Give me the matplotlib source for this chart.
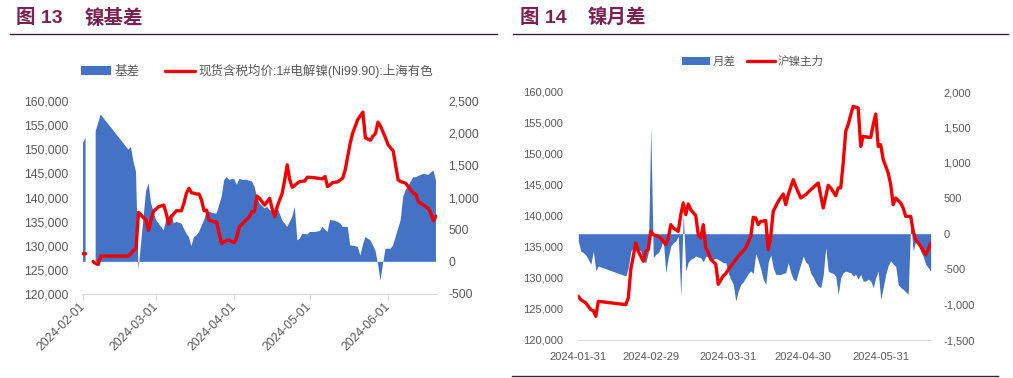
import numpy as np
import pandas as pd
import matplotlib
matplotlib.use("Agg")
import matplotlib.pyplot as plt
import matplotlib.dates as mdates
from matplotlib.lines import Line2D
from matplotlib.ticker import FuncFormatter, MultipleLocator

plt.rcParams['font.family'] = ['Liberation Sans', 'Noto Sans CJK SC']

# ---- 图13 镍基差 ----
basis_dates = [
    "2024-02-01", "2024-02-02", "2024-02-05", "2024-02-06", "2024-02-08", "2024-02-19", "2024-02-20",
    "2024-02-21", "2024-02-22", "2024-02-23", "2024-02-26", "2024-02-27", "2024-02-28", "2024-03-01",
    "2024-03-02", "2024-03-04", "2024-03-05", "2024-03-07", "2024-03-08", "2024-03-09", "2024-03-11",
    "2024-03-13", "2024-03-14", "2024-03-15", "2024-03-16", "2024-03-17", "2024-03-18", "2024-03-20",
    "2024-03-21", "2024-03-22", "2024-03-24", "2024-03-25", "2024-03-27", "2024-03-28", "2024-03-29",
    "2024-03-30", "2024-03-31", "2024-04-01", "2024-04-02", "2024-04-03", "2024-04-04", "2024-04-06",
    "2024-04-08", "2024-04-09", "2024-04-10", "2024-04-11", "2024-04-13", "2024-04-14", "2024-04-15",
    "2024-04-17", "2024-04-18", "2024-04-19", "2024-04-20", "2024-04-22", "2024-04-23", "2024-04-24",
    "2024-04-25", "2024-04-26", "2024-04-27", "2024-04-28", "2024-04-30", "2024-05-01", "2024-05-03",
    "2024-05-05", "2024-05-06", "2024-05-08", "2024-05-09", "2024-05-10", "2024-05-12", "2024-05-13",
    "2024-05-14", "2024-05-16", "2024-05-17", "2024-05-19", "2024-05-20", "2024-05-21", "2024-05-22",
    "2024-05-23", "2024-05-25", "2024-05-26", "2024-05-27", "2024-05-28", "2024-05-29", "2024-05-30",
    "2024-05-31", "2024-06-02", "2024-06-03", "2024-06-04", "2024-06-06", "2024-06-07", "2024-06-08",
    "2024-06-10", "2024-06-11", "2024-06-12", "2024-06-14", "2024-06-15", "2024-06-17", "2024-06-18",
    "2024-06-19", "2024-06-20",
]
basis_vals = [
    1850, 1930, np.nan, 2030, 2290, 1744, 1785,
    1560, 1400, -130, 1100, 1222, 909, 647,
    596, 490, 647, 753, 596, 622, 596,
    440, 386, 245, 386, 412, 464, 647,
    777, 777, 753, 753, 1013, 1274, 1316,
    1274, 1285, 1285, 1196, 1290, 1274, 1274,
    1248, 1170, 1013, 909, 830, 857, 805,
    777, 857, 753, 647, 543, 620, 700,
    857, 334, 360, 438, 425, 464, 464,
    480, 543, 464, 647, 647, 622, 596,
    543, 543, 256, 245, 230, 99, 256,
    386, 334, 256, 178, -31, -292, -31,
    204, 204, 256, 386, 647, 1013, 1117,
    1248, 1316, 1316, 1352, 1368, 1352, 1390,
    1420, 1274,
]

spot_dates = [
    "2024-02-01", "2024-02-02", "2024-02-03", "2024-02-05", "2024-02-06", "2024-02-07", "2024-02-08",
    "2024-02-19", "2024-02-20", "2024-02-21", "2024-02-22", "2024-02-23", "2024-02-24", "2024-02-26",
    "2024-02-27", "2024-02-28", "2024-02-29", "2024-03-02", "2024-03-04", "2024-03-05", "2024-03-06",
    "2024-03-07", "2024-03-09", "2024-03-11", "2024-03-12", "2024-03-13", "2024-03-14", "2024-03-15",
    "2024-03-17", "2024-03-18", "2024-03-19", "2024-03-20", "2024-03-21", "2024-03-22", "2024-03-24",
    "2024-03-25", "2024-03-26", "2024-03-27", "2024-03-29", "2024-03-30", "2024-04-01", "2024-04-02",
    "2024-04-03", "2024-04-05", "2024-04-07", "2024-04-08", "2024-04-09", "2024-04-10", "2024-04-11",
    "2024-04-13", "2024-04-14", "2024-04-15", "2024-04-16", "2024-04-17", "2024-04-18", "2024-04-20",
    "2024-04-21", "2024-04-22", "2024-04-23", "2024-04-24", "2024-04-26", "2024-04-27", "2024-04-29",
    "2024-04-30", "2024-05-02", "2024-05-04", "2024-05-06", "2024-05-07", "2024-05-08", "2024-05-09",
    "2024-05-10", "2024-05-12", "2024-05-14", "2024-05-15", "2024-05-17", "2024-05-18", "2024-05-20",
    "2024-05-22", "2024-05-23", "2024-05-25", "2024-05-26", "2024-05-27", "2024-05-28", "2024-05-29",
    "2024-05-31", "2024-06-01", "2024-06-02", "2024-06-03", "2024-06-05", "2024-06-06", "2024-06-08",
    "2024-06-10", "2024-06-11", "2024-06-12", "2024-06-13", "2024-06-15", "2024-06-17", "2024-06-18",
    "2024-06-19", "2024-06-20",
]
spot_vals = [
    128345, 128345, np.nan, 126745, 126300, 126120, 127860,
    127860, 128345, 129040, 129390, 136900, 136350, 135300,
    133200, 135440, 137180, 138080, 138430, 136700, 134470,
    136000, 137250, 137250, 138780, 140870, 141910, 141000,
    140730, 140730, 139480, 137250, 137390, 135300, 134960,
    134960, 132520, 130430, 131130, 131130, 130640, 131820,
    133910, 134960, 136000, 137040, 137040, 140310, 139820,
    138430, 139130, 139820, 137740, 136000, 138080, 140870,
    143650, 146780, 143650, 142120, 142960, 143300, 143440,
    144210, 144140, 144000, 143860, 144350, 142260, 142610,
    143090, 143230, 144000, 145740, 151300, 153390, 156170,
    157700, 152350, 151860, 152700, 153250, 155620, 154790,
    152350, 150960, 150270, 149700, 143650, 143300, 142960,
    141560, 140870, 140730, 139130, 138430, 137740, 136700,
    135160, 136140,
]
left_ticks = ["2024-02-01", "2024-03-01", "2024-04-01", "2024-05-01", "2024-06-01"]

# ---- 图14 镍月差 ----
spread_pre = [-100, -245, -268, -300, -362, -433, -245, -517, -456]          # 01-31 .. 02-08
spread_post = [                                                                # 02-19 .. 06-20
    -597, -480, -245, -198, -103, -221, -245, -386, -409, -268, 1496,
    -339, -292, -268, -198, -80, -550, -330, -175, -127, -103, -33, -880, 280, -527, -400,
    -360, -340, -315, -330, -339, -395, -315, -330, -339, -362, -348, -362, -386, -410, -409, -550,
    -644, -715, -950, -810, -715, -680, -620, -560, -527, -560, -280, -380, -500, -644, -715,
    -400, -300, -480, -574, -574, -574, -560, -550, -409, -550, -640, -668, -550, -430, -315,
    -400, -433, -560, -610, -690, -740, -762, -580, -198, -527, -550, -560, -600, -856, -620,
    -550, -527, -540, -550, -597, -574, -640, -574, -670, -668, -640, -668, -762, -620, -527, -927,
    -760, -574, -450, -380, -430, -460, -715, -760, -785, -820, -856, 170, -245, -103, -150,
    -250, -320, -430, -480, -527,
]
spread_dates = list(pd.date_range("2024-01-31", "2024-02-08")) + list(pd.date_range("2024-02-19", "2024-06-20"))
spread_vals = spread_pre + spread_post

fut_dates = [
    "2024-01-31", "2024-02-01", "2024-02-02", "2024-02-03", "2024-02-04", "2024-02-05", "2024-02-06",
    "2024-02-07", "2024-02-08", "2024-02-19", "2024-02-20", "2024-02-21", "2024-02-22", "2024-02-23",
    "2024-02-24", "2024-02-26", "2024-02-27", "2024-02-28", "2024-02-29", "2024-03-01", "2024-03-03",
    "2024-03-04", "2024-03-06", "2024-03-07", "2024-03-08", "2024-03-09", "2024-03-11", "2024-03-12",
    "2024-03-13", "2024-03-14", "2024-03-15", "2024-03-16", "2024-03-18", "2024-03-19", "2024-03-20",
    "2024-03-21", "2024-03-22", "2024-03-23", "2024-03-24", "2024-03-26", "2024-03-27", "2024-03-29",
    "2024-03-30", "2024-03-31", "2024-04-02", "2024-04-04", "2024-04-07", "2024-04-09", "2024-04-10",
    "2024-04-11", "2024-04-12", "2024-04-13", "2024-04-15", "2024-04-16", "2024-04-17", "2024-04-18",
    "2024-04-20", "2024-04-22", "2024-04-23", "2024-04-24", "2024-04-26", "2024-04-27", "2024-04-29",
    "2024-05-01", "2024-05-03", "2024-05-06", "2024-05-08", "2024-05-10", "2024-05-11", "2024-05-13",
    "2024-05-14", "2024-05-15", "2024-05-16", "2024-05-17", "2024-05-18", "2024-05-19", "2024-05-20",
    "2024-05-22", "2024-05-23", "2024-05-24", "2024-05-26", "2024-05-27", "2024-05-28", "2024-05-29",
    "2024-05-30", "2024-05-31", "2024-06-01", "2024-06-03", "2024-06-04", "2024-06-05", "2024-06-06",
    "2024-06-08", "2024-06-09", "2024-06-10", "2024-06-12", "2024-06-13", "2024-06-14", "2024-06-16",
    "2024-06-18", "2024-06-19", "2024-06-20",
]
fut_vals = [
    127045, 126510, 126240, 125970, 125430, 124890, 124730,
    123820, 126240, 125700, 126780, 131350, 133500, 135650,
    134310, 132700, 134310, 134580, 137530, 136990, 136720,
    136450, 135380, 136450, 138600, 138070, 137530, 140220,
    142100, 140220, 141940, 141020, 140060, 136990, 136450,
    138600, 134850, 134150, 133020, 132220, 128990, 130340,
    130720, 131350, 132430, 133500, 134850, 136720, 139790,
    139680, 138600, 139130, 139260, 134580, 136720, 140760,
    142370, 143550, 141830, 143440, 145860, 144780, 142910,
    143440, 144240, 145320, 141290, 144960, 144530, 143280,
    144530, 144530, 148560, 153670, 154750, 156340, 157690,
    157420, 151230, 152850, 152690, 152690, 154730, 156450,
    151230, 151500, 149100, 146950, 145080, 141830, 142910,
    142100, 141290, 139940, 139940, 137530, 136180, 135110,
    133770, 134580, 135650,
]
right_ticks = ["2024-01-31", "2024-02-29", "2024-03-31", "2024-04-30", "2024-05-31"]

BLUE = "#4472C4"
RED = "#F00000"
GRAY = "#595959"
AXIS = "#D9D9D9"
TITLE = "#7B2150"
RULE = "#3D1F2E"
W, H = 1013, 378

fig = plt.figure(figsize=(W / 100, H / 100), dpi=100)
thousands = FuncFormatter(lambda v, p: f"{v:,.0f}")


def style(ax, axr, size, lpad, rpad):
    for a in (ax, axr):
        for s in a.spines.values():
            s.set_visible(False)
    ax.spines["bottom"].set_visible(True)
    ax.spines["bottom"].set_color(AXIS)
    ax.tick_params(axis="y", length=0, pad=lpad, labelsize=size, labelcolor=GRAY)
    axr.tick_params(axis="y", length=0, pad=rpad, labelsize=size, labelcolor=GRAY)
    ax.yaxis.set_major_formatter(thousands)
    axr.yaxis.set_major_formatter(thousands)
    ax.xaxis.set_major_formatter(mdates.DateFormatter("%Y-%m-%d"))


# left chart
ax1 = fig.add_axes([82 / W, 1 - 294 / H, 355 / W, 193 / H])
ax1r = ax1.twinx()
area1 = ax1r.fill_between(pd.to_datetime(basis_dates), 0, basis_vals, color=BLUE, linewidth=0)
line1, = ax1.plot(pd.to_datetime(spot_dates), spot_vals, color=RED, lw=2.4, solid_capstyle="round")
ax1.set_zorder(ax1r.get_zorder() + 1)
ax1.patch.set_visible(False)
ax1.set_ylim(120000, 160000)
ax1.yaxis.set_major_locator(MultipleLocator(5000))
ax1r.set_ylim(-500, 2500)
ax1r.yaxis.set_major_locator(MultipleLocator(500))
ax1.set_xlim(pd.Timestamp("2024-02-01") - pd.Timedelta(hours=10), pd.Timestamp("2024-06-20") + pd.Timedelta(hours=10))
ax1.set_xticks(pd.to_datetime(left_ticks))
style(ax1, ax1r, 8.8, 10, 8)
ax1.tick_params(axis="x", length=4, color=AXIS, labelcolor=GRAY, labelsize=8.8, pad=4)
for lbl in ax1.get_xticklabels():
    lbl.set_rotation(45)
    lbl.set_ha("right")
    lbl.set_va("center")
    lbl.set_rotation_mode("anchor")

fig.legend([area1, line1], ["基差", "现货含税均价:1#电解镍(Ni99.90):上海有色"],
           loc="center", bbox_to_anchor=(257 / W, 1 - 71 / H), ncol=2, frameon=False,
           fontsize=9, handlelength=2.4, handletextpad=0.3, columnspacing=2.0, labelcolor=GRAY)

# right chart
ax2 = fig.add_axes([578 / W, 1 - 340 / H, 353 / W, 248 / H])
ax2r = ax2.twinx()
area2 = ax2r.fill_between(spread_dates, 0, spread_vals, color=BLUE, linewidth=0)
line2, = ax2.plot(pd.to_datetime(fut_dates), fut_vals, color=RED, lw=2.4, solid_capstyle="round")
ax2.set_zorder(ax2r.get_zorder() + 1)
ax2.patch.set_visible(False)
ax2.set_ylim(120000, 160000)
ax2.yaxis.set_major_locator(MultipleLocator(5000))
ax2r.set_ylim(-1500, 2000)
ax2r.yaxis.set_major_locator(MultipleLocator(500))
ax2.set_xlim(pd.Timestamp("2024-01-31") - pd.Timedelta(hours=3), pd.Timestamp("2024-06-20") + pd.Timedelta(hours=3))
ax2.set_xticks(pd.to_datetime(right_ticks))
style(ax2, ax2r, 8, 11, 9)
ax2.tick_params(axis="x", length=0, labelcolor=GRAY, labelsize=8, pad=9)

fig.legend([area2, line2], ["月差", "沪镍主力"],
           loc="center", bbox_to_anchor=(753 / W, 1 - 62 / H), ncol=2, frameon=False,
           fontsize=8.3, handlelength=2.4, handletextpad=0.25, columnspacing=1.0, labelcolor=GRAY)

# titles and rules
tfont = dict(fontsize=14, fontweight="bold", color=TITLE, va="center",
             family=["Liberation Sans", "Noto Sans CJK SC"])
fig.text(16 / W, 1 - 18 / H, "图 13", **tfont)
fig.text(85 / W, 1 - 18 / H, "镍基差", **tfont)
fig.text(520 / W, 1 - 18 / H, "图 14", **tfont)
fig.text(588 / W, 1 - 18 / H, "镍月差", **tfont)
fig.add_artist(Line2D([10 / W, 497 / W], [1 - 34 / H] * 2, color=RULE, lw=1.0))
fig.add_artist(Line2D([513 / W, 1008 / W], [1 - 34 / H] * 2, color=RULE, lw=1.0))
fig.add_artist(Line2D([512 / W, 998 / W], [1 - 376 / H] * 2, color=RULE, lw=1.0))

fig.savefig("out.png", dpi=100)
